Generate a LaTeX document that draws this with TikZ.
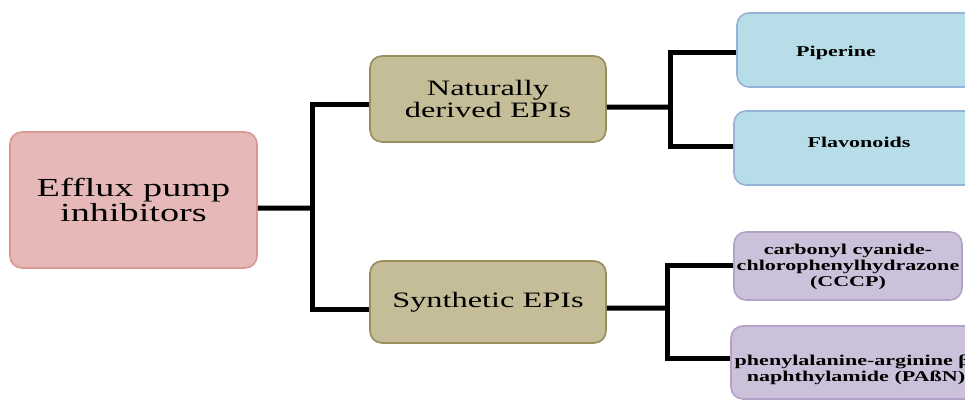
\documentclass[tikz,border=0pt]{standalone}
\usepackage{fontspec}
\setmainfont{Liberation Serif}[FakeStretch=1.47]
\usepackage{tikz}
\usetikzlibrary{positioning}
\usepackage{xcolor}
\definecolor{rootfill}{HTML}{E6B9B8}
\definecolor{rootline}{HTML}{D99795}
\definecolor{midfill}{HTML}{C4BD97}
\definecolor{midline}{HTML}{978E5C}
\definecolor{bluefill}{HTML}{B7DEE8}
\definecolor{blueline}{HTML}{95B3D7}
\definecolor{lilfill}{HTML}{CCC1DA}
\definecolor{lilline}{HTML}{B3A2C7}

\begin{document}
\begin{tikzpicture}[x=1bp,y=-1bp,
  box/.style={draw,line width=1.6bp,rounded corners=12bp,inner sep=0pt,align=center},
  rootbox/.style={box,fill=rootfill,draw=rootline,minimum width=247bp,minimum height=136bp,
    font=\fontsize{26bp}{25bp}\selectfont},
  midbox/.style={box,fill=midfill,draw=midline,minimum width=236bp,
    font=\fontsize{22bp}{22bp}\selectfont},
  leafbox/.style={box,minimum width=250bp,minimum height=74bp,
    font=\fontsize{15bp}{16bp}\selectfont\bfseries},
  link/.style={line width=5bp}]
\useasboundingbox (0,0) rectangle (965,401);
\clip (0,0) rectangle (965,401);
\node[rootbox] (root) at (133.5,200) {Efflux pump\\inhibitors};
\node[midbox,minimum height=86bp] (nat) at (488,99) {Naturally\\derived EPIs};
\node[midbox,minimum height=82bp] (syn) at (488,302) {Synthetic EPIs};
\node[leafbox,fill=bluefill,draw=blueline] (pip) at (862,50)
  {\hspace*{-52bp}\rule{0pt}{17bp}Piperine};
\node[leafbox,fill=bluefill,draw=blueline] (flav) at (859,148)
  {\rule[-12bp]{0pt}{12bp}Flavonoids};
\node[leafbox,fill=lilfill,draw=lilline,minimum width=228bp,minimum height=68bp] (cccp) at (848,266)
  {\rule{0pt}{13bp}carbonyl cyanide-\\chlorophenylhydrazone\\(CCCP)};
\node[leafbox,fill=lilfill,draw=lilline,minimum height=73bp] (pabn) at (856,362.5)
  {\rule{0pt}{25bp}phenylalanine-arginine β-\\naphthylamide (PAßN)};
% branch points
\coordinate (ja) at (312,208);
\coordinate (jb) at (670,107);
\coordinate (jc) at (667,308);
\draw[link] ([yshift=-8bp]root.east) -- (ja);
\draw[link] ([yshift=-5bp]nat.west) -| (ja) |- ([yshift=-7bp]syn.west);
\draw[link] ([yshift=-8bp]nat.east) -- (jb);
\draw[link] ([yshift=-2bp]pip.west) -| (jb) |- ([yshift=2bp]flav.west);
\draw[link] ([yshift=-6bp]syn.east) -- (jc);
\draw[link] ([yshift=1bp]cccp.west) -| (jc) |- ([yshift=4bp]pabn.west);
\end{tikzpicture}
\end{document}
